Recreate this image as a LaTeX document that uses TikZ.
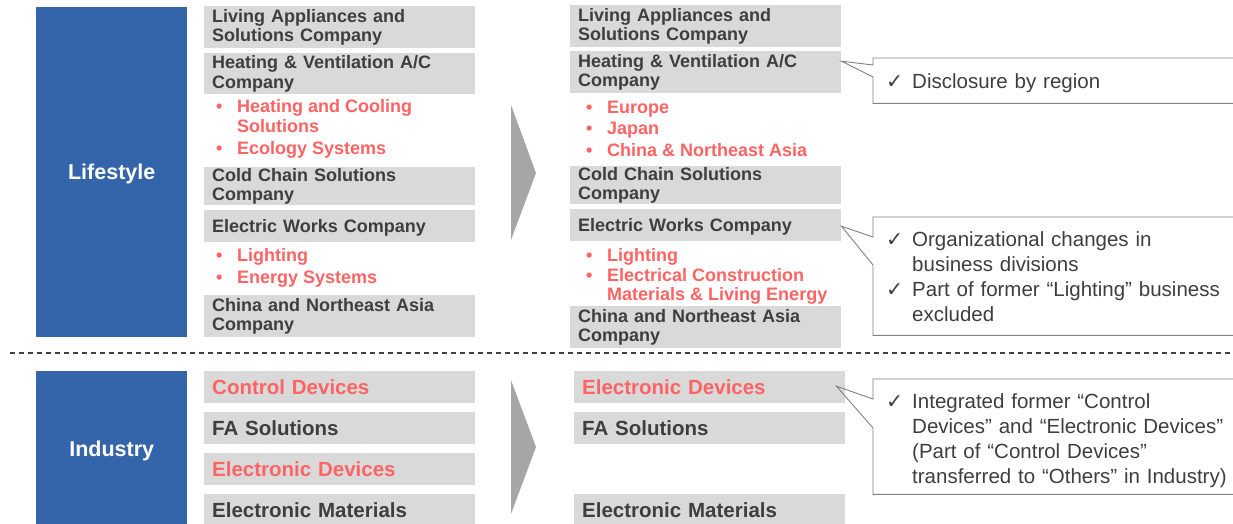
\documentclass[tikz,border=0pt]{standalone}
\usepackage{fontspec}
\setmainfont{Liberation Sans}
\newfontfamily\chkfont{DejaVu Sans}

\definecolor{segblue}{RGB}{52,101,170}
\definecolor{unitgray}{RGB}{217,217,217}
\definecolor{unittext}{RGB}{62,62,62}
\definecolor{chgred}{RGB}{255,99,99}
\definecolor{arrowgray}{RGB}{166,166,166}
\definecolor{notegray}{RGB}{128,128,128}

\newcommand\unitfont{\bfseries\fontsize{18}{19.5}\selectfont}
\newcommand\bigunitfont{\bfseries\fontsize{20.5}{22}\selectfont}
\newcommand\notefont{\fontsize{20.5}{25}\selectfont}
\newcommand\bul{\makebox[21pt][l]{\textbullet}}
\newcommand\chk{\makebox[26pt][l]{\chkfont ✓}}

\tikzset{
  segment/.style={fill=segblue,text=white,font=\bfseries\fontsize{21.5}{24}\selectfont,
    anchor=north west,minimum width=151,inner sep=0pt,text depth=0pt},
  unit/.style={fill=unitgray,text=unittext,font=\unitfont,anchor=north west,
    text width=255pt,inner xsep=8pt,inner ysep=0pt,align=left},
  oneline/.style={text depth=0pt},
  iunit/.style={unit,oneline,font=\bigunitfont,minimum height=32},
  item/.style={text=chgred,font=\unitfont,anchor=base west,inner sep=0pt,align=left},
  note/.style={text=unittext,font=\notefont,anchor=north west,text width=420pt,
    inner xsep=13pt,inner ysep=0pt,align=left},
  callout/.style={draw=notegray,line width=0.9pt},
  chevron/.style={fill=arrowgray},
  sepline/.style={draw=unittext,line width=1.1pt,dash pattern=on 5pt off 4pt}
}

\begin{document}
\begin{tikzpicture}[x=1pt,y=-1pt]
  \clip (0,0) rectangle (1233,524);

  % segments
  \node[segment,minimum height=330] (lifestyle) at (36,7) {Lifestyle};
  \node[segment,minimum height=156] (industry) at (36,371) {Industry};

  % lifestyle, before (multi-line items sit on their last baseline)
  \node[unit,minimum height=42] (laOld) at (204,6) {Living Appliances and\\Solutions Company};
  \node[unit,minimum height=41] (hvOld) at (204,53) {Heating \& Ventilation A/C\\Company};
  \node[item] (hvOldA) at (216,132) {\bul Heating and Cooling\\\hspace*{21pt}Solutions};
  \node[item] (hvOldB) at (216,154.5) {\bul Ecology Systems};
  \node[unit,minimum height=38] (ccOld) at (204,167) {Cold Chain Solutions\\Company};
  \node[unit,oneline,minimum height=32] (ewOld) at (204,210) {Electric Works Company};
  \node[item] (ewOldA) at (216,261.5) {\bul Lighting};
  \node[item] (ewOldB) at (216,283.5) {\bul Energy Systems};
  \node[unit,minimum height=42] (cnOld) at (204,295) {China and Northeast Asia\\Company};

  % lifestyle, after
  \node[unit,minimum height=42] (laNew) at (570,5) {Living Appliances and\\Solutions Company};
  \node[unit,minimum height=42] (hvNew) at (570,51) {Heating \& Ventilation A/C\\Company};
  \node[item] (hvNewA) at (586,113.5) {\bul Europe};
  \node[item] (hvNewB) at (586,134.5) {\bul Japan};
  \node[item] (hvNewC) at (586,156.5) {\bul China \& Northeast Asia};
  \node[unit,minimum height=38] (ccNew) at (570,166) {Cold Chain Solutions\\Company};
  \node[unit,oneline,minimum height=32] (ewNew) at (570,209) {Electric Works Company};
  \node[item] (ewNewA) at (586,261.5) {\bul Lighting};
  \node[item] (ewNewB) at (586,300.5) {\bul Electrical Construction\\\hspace*{21pt}Materials \& Living Energy};
  \node[unit,minimum height=42] (cnNew) at (570,306) {China and Northeast Asia\\Company};

  % industry, before and after
  \node[iunit,text=chgred] (cdOld) at (204,371) {Control Devices};
  \node[iunit] (faOld) at (204,412) {FA Solutions};
  \node[iunit,text=chgred] (edOld) at (204,453) {Electronic Devices};
  \node[iunit] (emOld) at (204,494) {Electronic Materials};
  \node[iunit,text=chgred] (edNew) at (574,371) {Electronic Devices};
  \node[iunit] (faNew) at (574,412) {FA Solutions};
  \node[iunit] (emNew) at (574,494) {Electronic Materials};

  % arrows between before and after
  \fill[chevron] (511,105) -- (536,173) -- (511,240) -- cycle;
  \fill[chevron] (511,380) -- (536,447) -- (511,514) -- cycle;

  \draw[sepline] (10,353) -- (1233,353);

  % callouts, open to the right
  \node[note,oneline,minimum height=45] (noteRegion) at (873,58) {\chk Disclosure by region};
  \node[note,minimum height=118] (noteWorks) at (873,217)
    {\chk Organizational changes in\\\hspace*{26pt}business divisions\\
     \chk Part of former “Lighting” business\\\hspace*{26pt}excluded};
  \node[note,text depth=72pt,minimum height=115] (noteDevices) at (873,379)
    {\chk Integrated former “Control\\\hspace*{26pt}Devices” and “Electronic Devices”\\
     \hspace*{26pt}(Part of “Control Devices”\\\hspace*{26pt}transferred to “Others” in Industry)};

  \draw[callout] (noteRegion.north east) -- (noteRegion.north west)
    -- ([yshift=-7]noteRegion.north west) -- ([yshift=11]hvNew.east)
    -- ([yshift=-19]noteRegion.north west) -- (noteRegion.south west) -- (noteRegion.south east);
  \draw[callout] (noteWorks.north east) -- (noteWorks.north west)
    -- ([yshift=-20]noteWorks.north west) -- ([yshift=-1]ewNew.east)
    -- ([yshift=-48]noteWorks.north west) -- (noteWorks.south west) -- (noteWorks.south east);
  \draw[callout] (noteDevices.north east) -- (noteDevices.north west)
    -- ([yshift=-20]noteDevices.north west) -- ([xshift=-9,yshift=1]edNew.east)
    -- ([yshift=-49]noteDevices.north west) -- (noteDevices.south west) -- (noteDevices.south east);
\end{tikzpicture}
\end{document}
